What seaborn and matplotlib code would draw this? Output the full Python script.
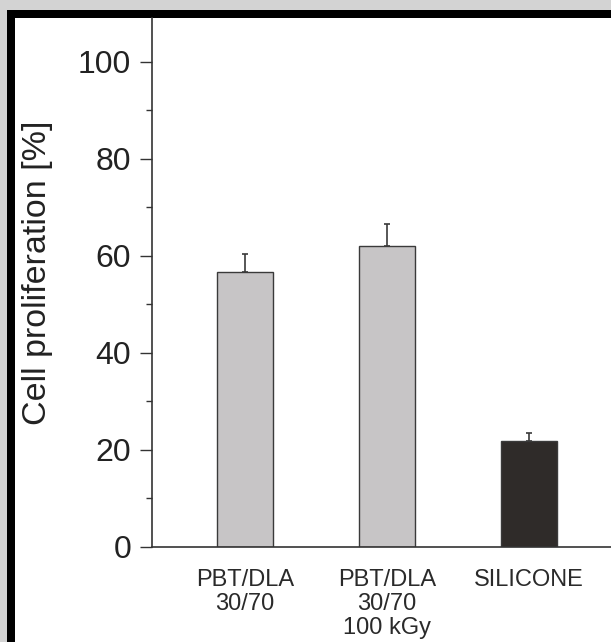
import matplotlib
matplotlib.use("Agg")
import matplotlib.pyplot as plt
import seaborn as sns
import pandas as pd
from matplotlib.patches import Rectangle

categories = ["PBT/DLA\n30/70", "PBT/DLA\n30/70\n100 kGy", "SILICONE"]
values = [56.8, 62.1, 21.9]
errors = [3.6, 4.5, 1.7]
bar_colors = ["#c7c5c6", "#c7c5c6", "#302a28"]
y_ticks = [0, 20, 40, 60, 80, 100]

sns.set_theme(style="white")
plt.rcParams["font.family"] = ["Liberation Sans", "DejaVu Sans"]

W, H = 611, 642
fig = plt.figure(figsize=(W / 100, H / 100), dpi=100)
fig.patch.set_facecolor("#d3d3d3")

# black frame and white interior (cropped page look)
fig.patches.append(Rectangle((7 / W, 0), 1, 1 - 10 / H, transform=fig.transFigure,
                             facecolor="black", edgecolor="none", zorder=-2))
fig.patches.append(Rectangle((15 / W, 0), 1, 1 - 18 / H, transform=fig.transFigure,
                             facecolor="white", edgecolor="none", zorder=-1))

left = 152 / W
bottom = 1 - 547 / H
top = 1 - 18 / H
ax = fig.add_axes([left, bottom, 1 - left + 0.01, top - bottom])
ax.patch.set_alpha(0)

df = pd.DataFrame({"cat": categories, "val": values})
sns.barplot(data=df, x="cat", y="val", hue="cat", palette=bar_colors,
            order=categories, hue_order=categories, legend=False,
            width=0.393, edgecolor="#3a3a3a", linewidth=1.0, ax=ax, zorder=2)

for p, e in zip(ax.patches, errors):
    xc = p.get_x() + p.get_width() / 2
    ax.errorbar([xc], [p.get_height()], yerr=[[0], [e]], fmt="none",
                ecolor="#3a3a3a", elinewidth=1.2, capsize=2.5, capthick=1.2, zorder=1)

ax.set_xlim(-0.653, 2.62)
ax.set_ylim(0, 109.07)
ax.set_yticks(y_ticks)
ax.set_yticks(range(10, 110, 20), minor=True)
ax.set_yticklabels([str(t) for t in y_ticks], fontsize=23, color="#222222")
ax.set_xticks(range(len(categories)))
ax.set_xticklabels(categories, fontsize=17, color="#2a2a2a", linespacing=1.12)
ax.tick_params(axis="y", which="major", direction="out", length=9, width=1.0,
               color="#333333", left=True, pad=6)
ax.tick_params(axis="y", which="minor", direction="out", length=4.5, width=1.0,
               color="#333333", left=True)
ax.tick_params(axis="x", length=0, pad=16)

for s in ["top", "right"]:
    ax.spines[s].set_visible(False)
for s in ["left", "bottom"]:
    ax.spines[s].set_color("#333333")
    ax.spines[s].set_linewidth(1.2)

ax.set_xlabel("")
ax.set_ylabel("")
fig.text(38 / W, 1 - 273 / H, "Cell proliferation [%]", rotation=90,
         ha="center", va="center", fontsize=24.5, color="#222222")

fig.savefig("out.png", dpi=100, facecolor=fig.get_facecolor())
